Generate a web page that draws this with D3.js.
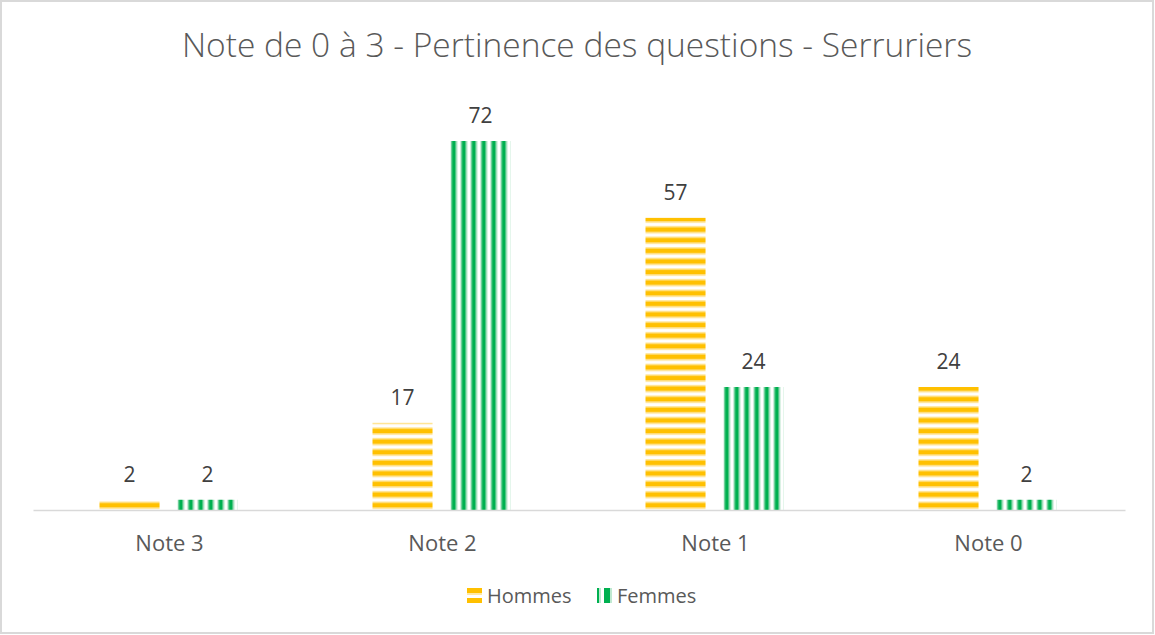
<html><head>
<script src="https://d3js.org/d3.v7.min.js"></script>
<style>
  body { margin: 0; background: #fff; }
  text { font-family: "Open Sans", Lato, sans-serif; }
</style>
</head>
<body>
<svg id="chart" width="1155" height="635"></svg>
<script>
// data
const categories = ["Note 3", "Note 2", "Note 1", "Note 0"];
const seriesNames = ["Hommes", "Femmes"];
const hommes = [2, 17, 57, 24];
const femmes = [2, 72, 24, 2];
const title = "Note de 0 à 3 - Pertinence des questions - Serruriers";

const svg = d3.select("#chart");
const width = +svg.attr("width");
const height = +svg.attr("height");

// outer border
svg.append("rect")
   .attr("x", 1).attr("y", 1)
   .attr("width", width - 3).attr("height", height - 3)
   .attr("fill", "#fff").attr("stroke", "#d9d9d9").attr("stroke-width", 2);

// patterns
const defs = svg.append("defs");
let ph = defs.append("pattern").attr("id", "hstripe")
  .attr("patternUnits", "userSpaceOnUse").attr("width", 10).attr("height", 10.6);
ph.append("rect").attr("width", 10).attr("height", 10.6).attr("fill", "#fff");
ph.append("rect").attr("y", 0).attr("width", 10).attr("height", 1.4).attr("fill", "#ffe9a6");
ph.append("rect").attr("y", 1.4).attr("width", 10).attr("height", 5).attr("fill", "#ffc000");
ph.append("rect").attr("y", 6.4).attr("width", 10).attr("height", 1.4).attr("fill", "#ffe9a6");

let pv = defs.append("pattern").attr("id", "vstripe")
  .attr("patternUnits", "userSpaceOnUse").attr("width", 10).attr("height", 10);
pv.append("rect").attr("width", 10).attr("height", 10).attr("fill", "#fff");
pv.append("rect").attr("x", 0).attr("width", 1.3).attr("height", 10).attr("fill", "#9fdcb9");
pv.append("rect").attr("x", 1.3).attr("width", 4.2).attr("height", 10).attr("fill", "#00b050");
pv.append("rect").attr("x", 5.5).attr("width", 1.3).attr("height", 10).attr("fill", "#9fdcb9");

const fills = {"Hommes": "url(#hstripe)", "Femmes": "url(#vstripe)"};
const legendFills = {"Hommes": "#ffc000", "Femmes": "#00b050"};

// title
svg.append("text")
   .attr("x", 577).attr("y", 57)
   .attr("text-anchor", "middle")
   .attr("font-size", 33.5)
   .attr("font-weight", 300)
   .attr("fill", "#595959")
   .text(title);

const margins = {"top": 141, "left": 33, "right": 30, "bottom": 125};
const chartWidth = width - margins.left - margins.right;
const chartHeight = height - margins.top - margins.bottom;
const g = svg.append("g").attr("transform", "translate(" + margins.left + "," + margins.top + ")");

const x = d3.scaleBand().domain(categories).range([0, chartWidth]);
const xInner = d3.scaleBand().domain(seriesNames)
  .range([x.bandwidth()/2 - 70, x.bandwidth()/2 + 68]).paddingInner(0.23).paddingOuter(0);
const y = d3.scaleLinear().domain([0, 72]).range([chartHeight, 0]);

const rows = categories.map((c, i) => ({cat: c, values: [
  {name: "Hommes", v: hommes[i]}, {name: "Femmes", v: femmes[i]}]}));

const groups = g.selectAll("g.cat").data(rows).join("g")
  .attr("class", "cat")
  .attr("transform", d => "translate(" + x(d.cat) + ",0)");

// bars: rect drawn at local x=0 so the stripes start at the bar's left edge
groups.selectAll("rect").data(d => d.values).join("rect")
  .attr("transform", d => "translate(" + xInner(d.name) + ",0)")
  .attr("x", 0)
  .attr("y", d => y(d.v))
  .attr("width", xInner.bandwidth())
  .attr("height", d => chartHeight - y(d.v))
  .attr("fill", d => fills[d.name]);

groups.selectAll("text.lbl").data(d => d.values).join("text")
  .attr("class", "lbl")
  .attr("x", d => xInner(d.name) + xInner.bandwidth()/2)
  .attr("y", d => y(d.v) - 18)
  .attr("text-anchor", "middle")
  .attr("font-size", 21)
  .attr("fill", "#404040")
  .text(d => d.v);

// x axis
const xAxis = d3.axisBottom(x).tickSize(0).tickPadding(25);
const ax = g.append("g").attr("transform", "translate(0," + chartHeight + ")").call(xAxis);
ax.select(".domain").attr("stroke", "#d9d9d9").attr("stroke-width", 1.5);
ax.selectAll("text").attr("font-size", 22).attr("fill", "#595959")
  .attr("font-family", "'Open Sans', Lato, sans-serif");

// legend
const legendX = [467, 597];
seriesNames.forEach((s, i) => {
  const lg = svg.append("g").attr("transform", "translate(" + legendX[i] + ",588)");
  if (s == "Hommes") {
    lg.append("rect").attr("width", 15).attr("height", 5).attr("fill", legendFills[s]);
    lg.append("rect").attr("y", 5).attr("width", 15).attr("height", 2).attr("fill", "#ffe9a6");
    lg.append("rect").attr("y", 10).attr("width", 15).attr("height", 5).attr("fill", legendFills[s]);
  } else {
    lg.append("rect").attr("x", 0).attr("width", 2).attr("height", 15).attr("fill", legendFills[s]);
    lg.append("rect").attr("x", 2).attr("width", 2).attr("height", 15).attr("fill", "#bfe9d1");
    lg.append("rect").attr("x", 7).attr("width", 6).attr("height", 15).attr("fill", legendFills[s]);
    lg.append("rect").attr("x", 13).attr("width", 2).attr("height", 15).attr("fill", "#bfe9d1");
  }
  lg.append("text").attr("x", 20).attr("y", 15)
    .attr("font-size", 20).attr("fill", "#595959").text(s);
});
</script>
</body>
</html>
